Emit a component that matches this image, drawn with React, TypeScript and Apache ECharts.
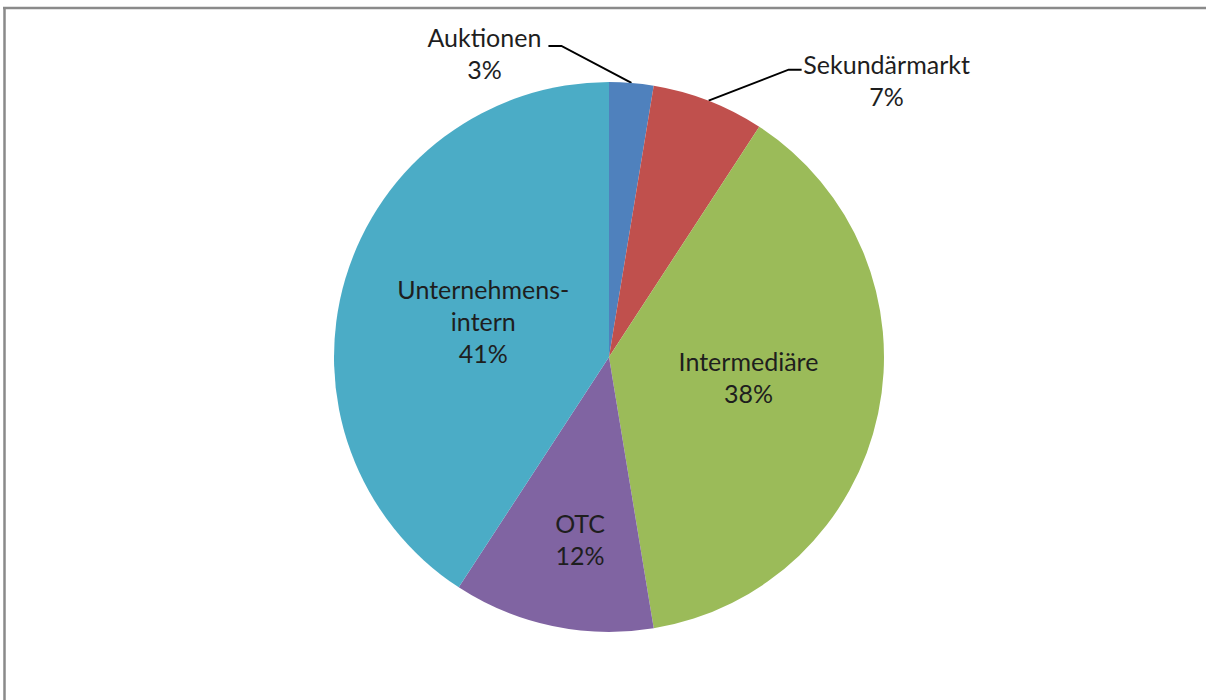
import React, { useEffect, useRef } from "react";
import * as echarts from "echarts";

const categories = ["Auktionen", "Sekundärmarkt", "Intermediäre", "OTC", "Unternehmens-\nintern"];
const values = [2.6, 6.6, 38.2, 11.8, 40.8];
const percentLabels = ["3%", "7%", "38%", "12%", "41%"];
const colors = ["#4F81BD", "#C0504D", "#9BBB59", "#8064A2", "#4BACC6"];

export default function App() {
  const ref = useRef<HTMLDivElement>(null);
  useEffect(() => {
    document.body.style.margin = "0";
    const chart = echarts.init(ref.current!, null, { renderer: "svg" });
    const font = "Lato";
    chart.setOption({
      animation: false,
      backgroundColor: "#ffffff",
      graphic: [
        { type: "line", shape: { x1: 3, y1: 8, x2: 1206, y2: 8 }, style: { stroke: "#8a8a8a", lineWidth: 2.5 } },
        { type: "line", shape: { x1: 4.5, y1: 7, x2: 4.5, y2: 700 }, style: { stroke: "#8a8a8a", lineWidth: 2.5 } },
      ],
      series: [
        {
          type: "pie",
          center: [609, 357],
          radius: 275,
          startAngle: 90,
          clockwise: true,
          silent: true,
          data: categories.map((c, i) => ({
            name: c,
            value: values[i],
            itemStyle: { color: colors[i] },
            label: {
              position: i < 2 ? "outside" : "inside",
              formatter: () => c + "\n" + percentLabels[i],
            },
            labelLine: { show: i < 2 },
          })),
          label: {
            fontFamily: font,
            fontSize: 25,
            lineHeight: 32,
            color: "#1e1e1e",
            align: "center",
          },
          labelLine: {
            lineStyle: { color: "#000000", width: 2 },
            length: 20,
            length2: 15,
          },
          labelLayout: (p: any) => {
            const i = p.dataIndex;
            const pts = p.labelLinePoints;
            if (i === 0 && pts) {
              const s = pts[0];
              const p2 = [s[0] - 70, s[1] - 37];
              const p3 = [p2[0] - 13, p2[1]];
              return {
                x: p3[0] - 64,
                y: p3[1] + 7,
                align: "center",
                verticalAlign: "middle",
                labelLinePoints: [s, p2, p3],
              };
            }
            if (i === 1 && pts) {
              const s = pts[0];
              const p2 = [s[0] + 80, s[1] - 31];
              const p3 = [p2[0] + 13, p2[1]];
              return {
                x: p3[0] + 85,
                y: p3[1] + 10,
                align: "center",
                verticalAlign: "middle",
                labelLinePoints: [s, p2, p3],
              };
            }
            if (i === 2) return { dx: 2, dy: -9 };
            if (i === 3) return { dy: 45 };
            if (i === 4) return { dx: 9, dy: 4 };
            return {};
          },
        },
      ],
    });
    return () => chart.dispose();
  }, []);
  return <div ref={ref} style={{ position: "absolute", left: 0, top: 0, width: 1206, height: 700 }} />;
}
